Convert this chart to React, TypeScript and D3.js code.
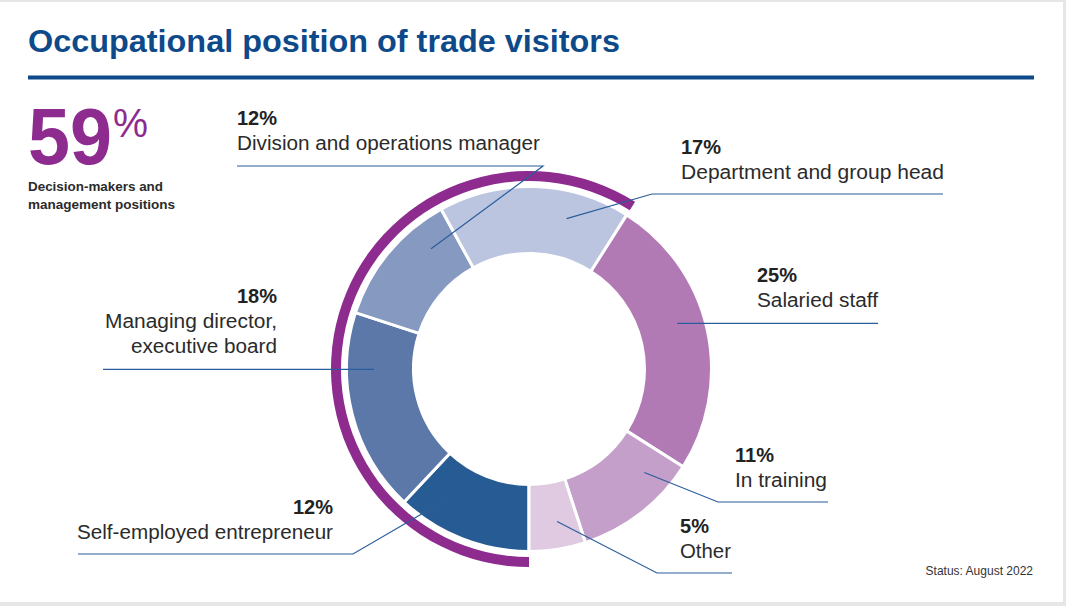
import * as d3 from "d3";

const categories = [
  "Self-employed entrepreneur",
  "Managing director, executive board",
  "Division and operations manager",
  "Department and group head",
  "Salaried staff",
  "In training",
  "Other",
];
const shares = [12, 18, 12, 17, 25, 11, 5];
const decisionMakers = [
  "Self-employed entrepreneur",
  "Managing director, executive board",
  "Division and operations manager",
  "Department and group head",
];
const labelLines = [
  ["Self-employed entrepreneur"],
  ["Managing director,", "executive board"],
  ["Division and operations manager"],
  ["Department and group head"],
  ["Salaried staff"],
  ["In training"],
  ["Other"],
];

const colors = ["#275b93", "#5b78a8", "#8599c1", "#bcc5df", "#b27ab4", "#c49fc9", "#dfcae2"];

// label layout: text x, label baseline, anchor, where the leader bends / ends
const layout = [
  { x: 333, y: 539, anchor: "end", t: 0.75, widths: [256], elbowX: 353, endX: 78, lineY: 554 },
  { x: 277, y: 328, anchor: "end", t: 0.72, widths: [172, 146], elbowX: null, endX: 103, lineY: 368 },
  { x: 237, y: 150, anchor: "start", t: 0.76, widths: [303], elbowX: 543, endX: 237, lineY: 166 },
  { x: 681, y: 179, anchor: "start", t: 0.7, widths: [263], elbowX: 652, endX: 943, lineY: 194 },
  { x: 757, y: 307, anchor: "start", t: 0.45, widths: [121], elbowX: null, endX: 878, lineY: 322 },
  { x: 735, y: 487, anchor: "start", t: 0.24, widths: [92], elbowX: 718, endX: 828, lineY: 502 },
  { x: 680, y: 558, anchor: "start", t: 0.42, widths: [51], elbowX: 657, endX: 732, lineY: 573 },
];

const W = 1066;
const H = 606;
const cx = 529;
const cy = 369;
const innerR = 115.5;
const outerR = 182.5;
const anchorR = 155;
const font = "'Liberation Sans', Arial, sans-serif";
const lineColor = "#2a5d9b";
const purple = "#8d2b8f";

export default function App() {
  const pie = d3
    .pie<number>()
    .sort(null)
    .startAngle(Math.PI)
    .endAngle(3 * Math.PI);
  const arcs = pie(shares);
  const arc = d3.arc<d3.PieArcDatum<number>>().innerRadius(innerR).outerRadius(outerR);

  const total = d3.sum(shares);
  const dmShare = d3.sum(categories.map((c, i) => (decisionMakers.includes(c) ? shares[i] : 0)));
  const bandArc = d3
    .arc()
    .innerRadius(188)
    .outerRadius(198)
    .startAngle(Math.PI)
    .endAngle(Math.PI + (dmShare / total) * 2 * Math.PI);

  const pointAt = (angle: number, r: number) => [cx + r * Math.sin(angle), cy - r * Math.cos(angle)];

  return (
    <div style={{ position: "fixed", left: 0, top: 0 }}>
      <svg width={W} height={H} style={{ display: "block" }}>
        <rect x={0} y={0} width={W} height={H} fill="#e6e6e6" />
        <rect x={0} y={2} width={1063} height={600} fill="#ffffff" />

        <text
          x={28}
          y={52}
          fontFamily={font}
          fontWeight={700}
          fontSize={31}
          fill="#0e4a8a"
          textLength={592}
          lengthAdjust="spacingAndGlyphs"
        >
          Occupational position of trade visitors
        </text>
        <rect x={28} y={75.5} width={1006} height={4} fill="#0e4a8a" />

        <text x={28} y={164} fontFamily={font} fill={purple}>
          <tspan fontWeight={700} fontSize={79} textLength={84} lengthAdjust="spacingAndGlyphs">
            {dmShare}
          </tspan>
          <tspan x={113} y={137} fontWeight={400} fontSize={40} textLength={35} lengthAdjust="spacingAndGlyphs">
            %
          </tspan>
        </text>
        <text x={28} y={191} fontFamily={font} fontWeight={600} fontSize={12.5} fill="#2b2b2b" textLength={135} lengthAdjust="spacingAndGlyphs">
          Decision-makers and
        </text>
        <text x={28} y={209} fontFamily={font} fontWeight={600} fontSize={12.5} fill="#2b2b2b" textLength={147} lengthAdjust="spacingAndGlyphs">
          management positions
        </text>

        <path d={bandArc(null as any) ?? ""} transform={`translate(${cx},${cy})`} fill={purple} />

        <g transform={`translate(${cx},${cy})`}>
          {arcs.map((a, i) => (
            <path key={categories[i]} d={arc(a) ?? ""} fill={colors[i]} stroke="#ffffff" strokeWidth={3} />
          ))}
        </g>

        {arcs.map((a, i) => {
          const l = layout[i];
          const ang = a.startAngle + (a.endAngle - a.startAngle) * l.t;
          const [ax, ay] = pointAt(ang, anchorR);
          const pts =
            l.elbowX === null
              ? [
                  [ax, ay],
                  [l.endX, ay],
                ]
              : [
                  [ax, ay],
                  [l.elbowX, l.lineY],
                  [l.endX, l.lineY],
                ];
          const lines = labelLines[i];
          const pctY = l.y - 25;
          return (
            <g key={"lab" + i}>
              <path d={d3.line()(pts as [number, number][]) ?? ""} fill="none" stroke={lineColor} strokeWidth={1.2} />
              <text x={l.x} y={pctY} textAnchor={l.anchor} fontFamily={font} fontWeight={700} fontSize={20} fill="#222222">
                {shares[i]}%
              </text>
              {lines.map((t, j) => (
                <text
                  key={t}
                  x={l.x}
                  y={l.y + j * 25}
                  textAnchor={l.anchor}
                  fontFamily={font}
                  fontSize={20}
                  fill="#2b2b2b"
                  textLength={l.widths[j]}
                  lengthAdjust="spacingAndGlyphs"
                >
                  {t}
                </text>
              ))}
            </g>
          );
        })}

        <text x={1033} y={575} textAnchor="end" fontFamily={font} fontSize={12} fill="#333333">
          Status: August 2022
        </text>
      </svg>
    </div>
  );
}
